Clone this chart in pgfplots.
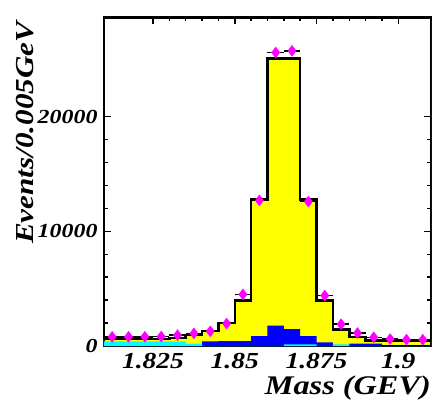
\documentclass[border=0pt]{standalone}
\usepackage{fontspec}
\setmainfont{Liberation Serif}[FakeStretch=1.2]
\usepackage{pgfplots}
\pgfplotsset{compat=1.18}
\definecolor{hyellow}{RGB}{255,255,0}
\definecolor{hblue}{RGB}{0,0,255}
\definecolor{hcyan}{RGB}{0,255,255}
\definecolor{hmag}{RGB}{255,0,255}
\definecolor{hteal}{RGB}{0,190,190}
\begin{document}
\begin{tikzpicture}
\begin{axis}[
 scale only axis, width=327bp, height=329bp,
 xmin=1.81, xmax=1.91, ymin=0, ymax=28700,
 axis line style={line width=2bp},
 /pgf/number format/assume math mode=true,
 xtick={1.825,1.85,1.875,1.9},
 xticklabels={1.825,1.85,1.875,1.9},
 minor x tick num=4,
 ytick={0,10000,20000},
 yticklabels={0,10000,20000},
 minor y tick num=4,
 scaled y ticks=false,
 tick align=inside,
 major tick length=7bp, minor tick length=4bp,
 tick style={black, line width=1.5bp},
 xticklabel style={font=\fontsize{23}{25}\selectfont\bfseries\itshape, yshift=-4bp},
 yticklabel style={font=\fontsize{20}{24}\selectfont\bfseries\itshape, xshift=-3bp},
 xlabel={Mass (GEV)}, ylabel={Events/0.005GeV},
 xlabel style={font=\fontsize{27}{30}\selectfont\bfseries\itshape, at={(axis description cs:1,0)}, anchor=north east, inner sep=0pt, yshift=-30bp},
 ylabel style={font=\fontsize{26}{30}\selectfont\bfseries\itshape, at={(axis description cs:-0.2416,0.648)}, anchor=center},
]
% total (yellow)
\addplot[const plot, fill=hyellow, draw=black, line width=2.5bp] coordinates {
(1.810,620) (1.815,620) (1.820,620) (1.825,620) (1.830,700) (1.835,950)
(1.840,1300) (1.845,2000) (1.850,3950) (1.855,12780) (1.860,25100) (1.865,25100)
(1.870,12780) (1.875,3950) (1.880,1450) (1.885,800) (1.890,500) (1.895,450)
(1.900,450) (1.905,450) (1.910,450)} \closedcycle;
% blue component
\addplot[const plot, fill=hblue, draw=none] coordinates {
(1.810,0) (1.815,0) (1.820,0) (1.825,0) (1.830,0) (1.835,150)
(1.840,400) (1.845,420) (1.850,420) (1.855,870) (1.860,1770) (1.865,1480)
(1.870,870) (1.875,320) (1.880,100) (1.885,200) (1.890,200) (1.895,0)
(1.900,0) (1.905,0) (1.910,0)} \closedcycle;
% cyan component
\addplot[const plot, fill=hcyan, draw=none] coordinates {
(1.810,400) (1.815,400) (1.820,400) (1.825,400) (1.830,400) (1.835,200)
(1.840,0) (1.845,0) (1.850,0) (1.855,0) (1.860,0) (1.865,150)
(1.870,150) (1.875,0) (1.880,150) (1.885,0) (1.890,0) (1.895,0)
(1.900,0) (1.905,0) (1.910,0)} \closedcycle;
% data
\addplot[only marks, mark=diamond*, mark size=5.5bp, color=hmag,
 mark options={fill=hmag, draw=hmag},
 error bars/.cd, x dir=both, x explicit, error bar style={black, line width=1.5bp}, error mark=none]
 coordinates {
(1.8125,800) +- (0.0025,0) (1.8175,800) +- (0.0025,0) (1.8225,800) +- (0.0025,0)
(1.8275,820) +- (0.0025,0) (1.8325,950) +- (0.0025,0) (1.8375,1100) +- (0.0025,0)
(1.8425,1280) +- (0.0025,0) (1.8475,1950) +- (0.0025,0) (1.8525,4500) +- (0.0025,0)
(1.8575,12700) +- (0.0025,0) (1.8625,25600) +- (0.0025,0) (1.8675,25750) +- (0.0025,0)
(1.8725,12600) +- (0.0025,0) (1.8775,4400) +- (0.0025,0) (1.8825,1900) +- (0.0025,0)
(1.8875,1130) +- (0.0025,0) (1.8925,760) +- (0.0025,0) (1.8975,610) +- (0.0025,0)
(1.9025,550) +- (0.0025,0) (1.9075,550) +- (0.0025,0)};
\draw[line width=5bp] (rel axis cs:0,1) -- (rel axis cs:1,1);
\draw[hteal, line width=2.5bp] ([xshift=1.5bp]rel axis cs:1,0) -- ([xshift=1.5bp,yshift=-3bp]rel axis cs:1,1);
\coordinate (sw) at (rel axis cs:0,0);
\coordinate (ne) at (rel axis cs:1,1);
\end{axis}
\pgfresetboundingbox
\path[use as bounding box] ([shift={(-104bp,-61bp)}]sw) rectangle ([shift={(2bp,17bp)}]ne);
\end{tikzpicture}
\end{document}
